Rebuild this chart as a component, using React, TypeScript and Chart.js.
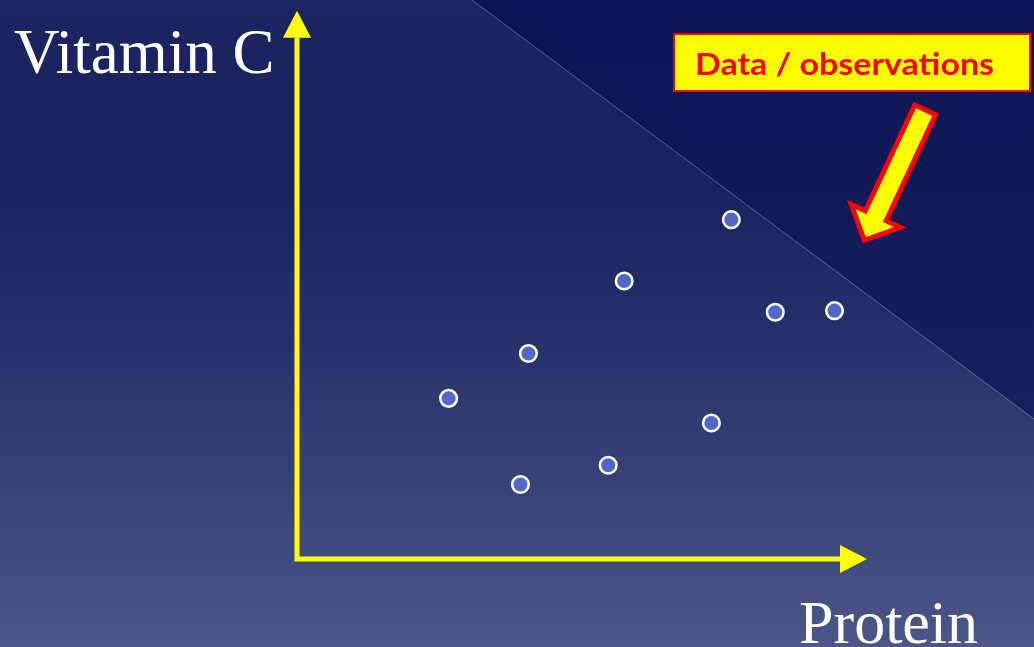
import React, { useEffect, useRef } from "react";
import { Chart, registerables } from "chart.js";

Chart.register(...registerables);

// Data (arbitrary units 0..10)
const proteinValues = [7.62, 5.74, 8.39, 9.43, 4.06, 2.66, 7.27, 5.46, 3.92];
const vitaminCValues = [6.19, 5.07, 4.5, 4.53, 3.75, 2.93, 2.48, 1.71, 1.36];
const axisMin = 0;
const axisMax = 10;
const xAxisLabel = "Protein";
const yAxisLabel = "Vitamin C";
const calloutText = "Data / observations";

const W = 1034;
const H = 647;

const backgroundPlugin = {
  id: "slideBackground",
  beforeDraw(chart: any) {
    const ctx = chart.ctx as CanvasRenderingContext2D;
    ctx.save();
    const g = ctx.createLinearGradient(0, 0, 0, H);
    g.addColorStop(0, "#1a2562");
    g.addColorStop(0.28, "#17225f");
    g.addColorStop(0.55, "#27336d");
    g.addColorStop(0.8, "#3b4679");
    g.addColorStop(1, "#4c5688");
    ctx.fillStyle = g;
    ctx.fillRect(0, 0, W, H);
    // darker upper-right triangle
    const g2 = ctx.createLinearGradient(0, 0, 0, 420);
    g2.addColorStop(0, "#0a1453");
    g2.addColorStop(1, "#15205c");
    ctx.beginPath();
    ctx.moveTo(472, 0);
    ctx.lineTo(W, 0);
    ctx.lineTo(W, 419);
    ctx.closePath();
    ctx.fillStyle = g2;
    ctx.fill();
    ctx.beginPath();
    ctx.moveTo(472, 0);
    ctx.lineTo(W, 419);
    ctx.strokeStyle = "rgba(200,210,240,0.35)";
    ctx.lineWidth = 1;
    ctx.stroke();
    ctx.restore();
  },
};

const axesPlugin = {
  id: "yellowAxes",
  beforeDatasetsDraw(chart: any) {
    const ctx = chart.ctx as CanvasRenderingContext2D;
    const xs = chart.scales.x;
    const ys = chart.scales.y;
    const x0 = xs.getPixelForValue(axisMin);
    const y0 = ys.getPixelForValue(axisMin);
    const xEnd = xs.getPixelForValue(axisMax);
    const yEnd = ys.getPixelForValue(axisMax);
    const head = 27;
    const half = 14;
    ctx.save();
    ctx.strokeStyle = "#ffff00";
    ctx.fillStyle = "#ffff00";
    ctx.lineWidth = 5;
    ctx.lineCap = "butt";
    ctx.beginPath();
    ctx.moveTo(x0, y0 + 2.5);
    ctx.lineTo(x0, yEnd + head);
    ctx.moveTo(x0 - 2.5, y0);
    ctx.lineTo(xEnd - head + 1, y0);
    ctx.stroke();
    // arrow heads
    ctx.beginPath();
    ctx.moveTo(x0, yEnd);
    ctx.lineTo(x0 + half, yEnd + head);
    ctx.lineTo(x0 - half, yEnd + head);
    ctx.closePath();
    ctx.fill();
    ctx.beginPath();
    ctx.moveTo(xEnd, y0);
    ctx.lineTo(xEnd - head, y0 - half);
    ctx.lineTo(xEnd - head, y0 + half);
    ctx.closePath();
    ctx.fill();
    ctx.restore();
  },
};

const annotationPlugin = {
  id: "slideAnnotations",
  afterDraw(chart: any) {
    const ctx = chart.ctx as CanvasRenderingContext2D;
    ctx.save();
    // axis labels
    ctx.fillStyle = "#ffffff";
    ctx.textBaseline = "alphabetic";
    ctx.textAlign = "left";
    ctx.font = '63px "Liberation Serif", "Times New Roman", serif';
    ctx.fillText(yAxisLabel, 14, 73);
    ctx.font = '62px "Liberation Serif", "Times New Roman", serif';
    ctx.fillText(xAxisLabel, 799, 643);

    // callout box
    ctx.fillStyle = "#ffff00";
    ctx.fillRect(673, 33, 358, 59);
    ctx.strokeStyle = "#ff0000";
    ctx.lineWidth = 2;
    ctx.strokeRect(674, 34, 356, 57);

    ctx.font = 'bold 31px Lato, "DejaVu Sans", sans-serif';
    const w = ctx.measureText(calloutText).width;
    const sx = 299 / w;
    ctx.save();
    ctx.translate(695, 75);
    ctx.scale(sx, 1);
    ctx.fillStyle = "#ff0000";
    ctx.fillText(calloutText, 0, 0);
    ctx.restore();

    // block arrow
    const tip = [863, 243];
    const d = [0.423, -0.906];
    const n = [0.906, 0.423];
    const local = [
      [3, 0],
      [30, 27],
      [30, 11.5],
      [147, 11.5],
      [147, -11.5],
      [30, -11.5],
      [30, -27],
    ];
    ctx.beginPath();
    local.forEach(([u, v], i) => {
      const px = tip[0] + u * d[0] + v * n[0];
      const py = tip[1] + u * d[1] + v * n[1];
      if (i === 0) ctx.moveTo(px, py);
      else ctx.lineTo(px, py);
    });
    ctx.closePath();
    ctx.fillStyle = "#ffff00";
    ctx.fill();
    ctx.strokeStyle = "#ff0000";
    ctx.lineWidth = 5;
    ctx.lineJoin = "miter";
    ctx.stroke();
    ctx.restore();
  },
};

export default function App() {
  const canvasRef = useRef<HTMLCanvasElement | null>(null);

  useEffect(() => {
    if (!canvasRef.current) return;
    const points = proteinValues.map((x, i) => ({ x, y: vitaminCValues[i] }));
    const chart = new Chart(canvasRef.current, {
      type: "scatter",
      data: {
        datasets: [
          {
            label: "Data / observations",
            data: points,
            backgroundColor: "#5068c8",
            borderColor: "#ffffff",
            borderWidth: 2.5,
            pointRadius: 8.3,
            pointHoverRadius: 8.3,
            clip: false,
          } as any,
        ],
      },
      options: {
        responsive: false,
        animation: false,
        devicePixelRatio: 1,
        layout: { padding: { left: 297, right: 167, top: 7, bottom: 88 } },
        scales: {
          x: { type: "linear", min: axisMin, max: axisMax, display: false },
          y: { type: "linear", min: axisMin, max: axisMax, display: false },
        },
        plugins: {
          legend: { display: false },
          title: { display: false },
          tooltip: { enabled: false },
        },
        events: [],
      },
      plugins: [backgroundPlugin, axesPlugin, annotationPlugin],
    });
    return () => chart.destroy();
  }, []);

  return (
    <div style={{ position: "fixed", left: 0, top: 0, width: W, height: H }}>
      <canvas ref={canvasRef} width={W} height={H} style={{ display: "block" }} />
    </div>
  );
}
